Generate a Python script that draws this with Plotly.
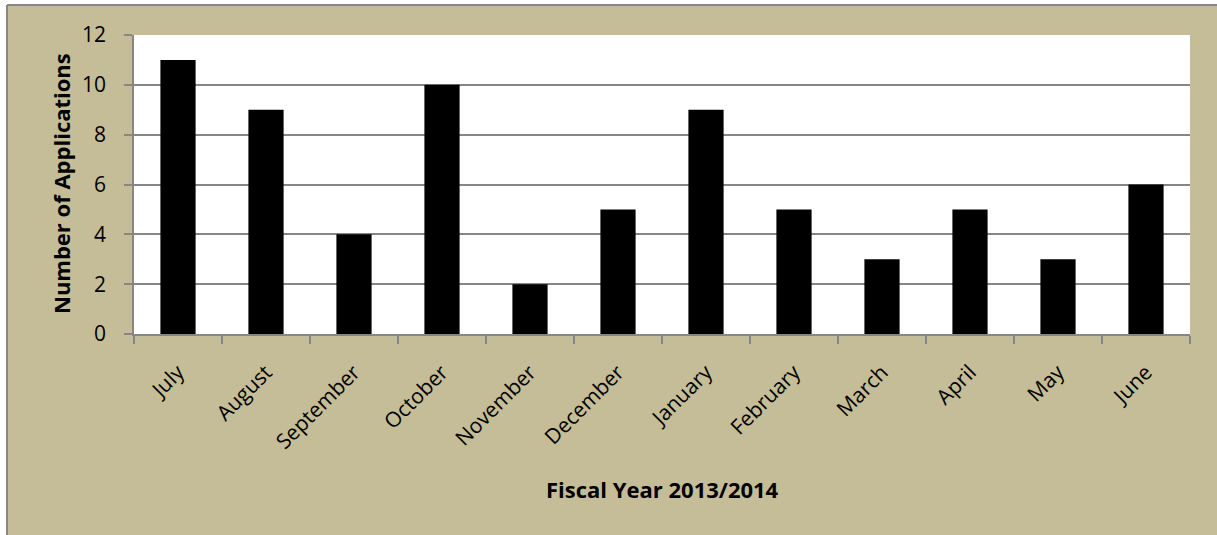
import plotly.graph_objects as go

months = ["July", "August", "September", "October", "November", "December",
          "January", "February", "March", "April", "May", "June"]
applications = [11, 9, 4, 10, 2, 5, 9, 5, 3, 5, 3, 6]
y_ticks = [0, 2, 4, 6, 8, 10, 12]

W, H = 1217, 535
L, R, T, B = 134, 1190, 35, 334
pw, ph = R - L, B - T

def px(x):
    return (x - L) / pw

def py(y):
    return (B - y) / ph

tan = "#C4BD97"
gray = "#868686"
font = "Open Sans"

fig = go.Figure(go.Bar(x=months, y=applications, width=0.4,
                       marker=dict(color="black", line=dict(width=0))))

shapes = [
    dict(type="rect", xref="paper", yref="paper", x0=px(-5), x1=px(W + 5),
         y0=py(5), y1=py(-5), fillcolor="white", line=dict(width=0), layer="below"),
    dict(type="rect", xref="paper", yref="paper", x0=px(-5), x1=px(7),
         y0=py(H + 5), y1=py(-5), fillcolor="white", line=dict(width=0), layer="below"),
    dict(type="line", xref="paper", yref="paper", x0=px(7), x1=px(W + 5),
         y0=py(5), y1=py(5), line=dict(color=gray, width=2), layer="below"),
    dict(type="line", xref="paper", yref="paper", x0=px(7), x1=px(7),
         y0=py(5), y1=py(H + 5), line=dict(color=gray, width=2), layer="below"),
]

annotations = [
    dict(text="<b>Fiscal Year 2013/2014</b>", xref="paper", yref="paper",
         x=px(662), y=py(489), showarrow=False, xanchor="center", yanchor="middle",
         font=dict(size=22, family=font, color="black")),
    dict(text="<b>Number of Applications</b>", xref="paper", yref="paper",
         x=px(61), y=py(184), showarrow=False, xanchor="center", yanchor="middle",
         textangle=-90, font=dict(size=22, family=font, color="black")),
]

fig.update_layout(
    width=W, height=H,
    margin=dict(l=L, r=W - R, t=T, b=H - B, autoexpand=False),
    paper_bgcolor=tan, plot_bgcolor="white",
    showlegend=False, bargap=0.6, shapes=shapes, annotations=annotations,
    font=dict(family=font, color="black", size=20),
)
fig.update_xaxes(
    tickangle=-45, tickson="boundaries", ticks="outside", ticklen=8,
    tickcolor=gray, tickwidth=1.5, showline=True, linecolor=gray, linewidth=1.5,
    showgrid=False, tickfont=dict(size=21, family=font), ticklabelstandoff=16,
    automargin=False,
)
fig.update_yaxes(
    range=[0, 12], tickvals=y_ticks, ticks="outside", ticklen=8, tickcolor=gray,
    tickwidth=1.5, showline=True, linecolor=gray, linewidth=1.5,
    showgrid=True, gridcolor=gray, gridwidth=1.5, zeroline=False,
    tickfont=dict(size=21, family=font), ticklabelstandoff=14,
    automargin=False,
)

fig.write_html("out.html", config={"displayModeBar": False},
               post_script="document.body.style.margin='0';")
